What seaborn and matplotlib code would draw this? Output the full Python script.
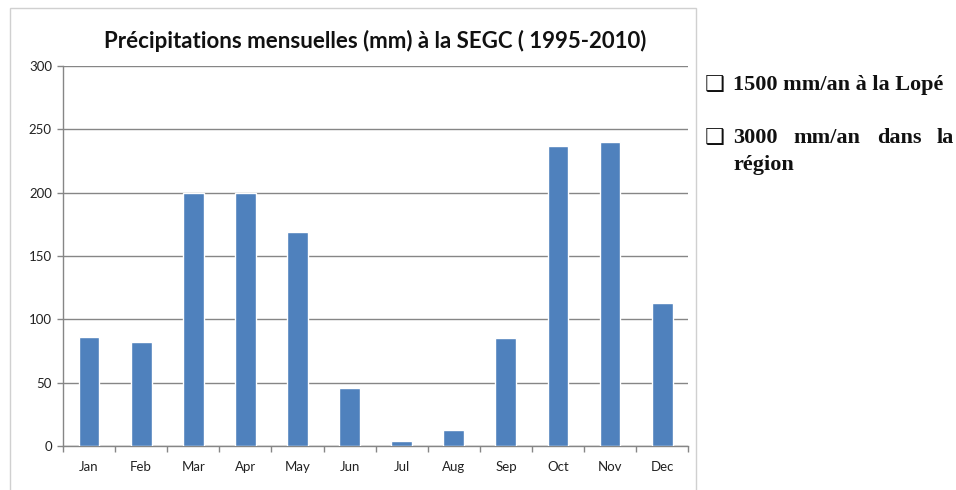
import matplotlib
matplotlib.use("Agg")
import matplotlib.pyplot as plt
import seaborn as sns
import pandas as pd
from matplotlib.patches import Rectangle

months = ["Jan", "Feb", "Mar", "Apr", "May", "Jun", "Jul", "Aug", "Sep", "Oct", "Nov", "Dec"]
precip = [86, 82, 200, 200, 169, 46, 4, 13, 85, 237, 240, 113]
yticks = [0, 50, 100, 150, 200, 250, 300]

df = pd.DataFrame({"mois": months, "pluie": precip})

sns.set_style("white")
plt.rcParams["font.family"] = ["Lato", "DejaVu Sans"]

fig = plt.figure(figsize=(9.56, 4.9), dpi=100)
ax = fig.add_axes([0.0659, 0.0898, 0.654, 0.7755])

sns.barplot(data=df, x="mois", y="pluie", color="#4F81BD", saturation=1,
            width=0.4, ax=ax, zorder=3)

ax.set_ylim(0, 300)
ax.set_xlim(-0.5, 11.5)
ax.set_yticks(yticks)
ax.set_yticklabels([str(v) for v in yticks], fontsize=9.5, color="#222222")
ax.set_xticks(range(12))
ax.set_xticklabels(months, fontsize=9.5, color="#222222")
ax.tick_params(axis="x", length=0, pad=11)
ax.tick_params(axis="y", length=4, width=1, color="#868686", pad=4, left=True)
# petits traits entre les mois
ax.set_xticks([i - 0.5 for i in range(13)], minor=True)
ax.tick_params(axis="x", which="minor", length=4, width=1, color="#868686", bottom=True)
ax.yaxis.grid(True, color="#868686", linewidth=1)
ax.set_axisbelow(True)
for s in ["top", "right"]:
    ax.spines[s].set_visible(False)
for s in ["left", "bottom"]:
    ax.spines[s].set_color("#868686")
    ax.spines[s].set_linewidth(1)
ax.set_xlabel("")
ax.set_ylabel("")
ax.set_title("Précipitations mensuelles (mm) à la SEGC ( 1995-2010)",
             fontsize=16, fontweight="bold", pad=13, color="#111111")

# cadre du graphique
fig.patches.append(Rectangle((10 / 956, -0.01), 686 / 956, 1 - 8 / 490 + 0.01,
                             transform=fig.transFigure, fill=False,
                             edgecolor="#d0d0d0", linewidth=1))

serif = {"family": ["Liberation Serif", "DejaVu Serif"], "fontweight": "bold",
         "fontsize": 16, "color": "#111111"}
box = {"family": ["DejaVu Sans"], "fontsize": 16, "color": "#111111"}

fig.text(705 / 956, 1 - 85 / 490, "\u2751", va="center", ha="left", **box)
fig.text(733 / 956, 1 - 85 / 490, "1500 mm/an à la Lopé", va="center", ha="left", **serif)

fig.text(705 / 956, 1 - 138 / 490, "\u2751", va="center", ha="left", **box)
for word, x in [("3000", 733), ("mm/an", 793), ("dans", 877), ("la", 937)]:
    fig.text(x / 956, 1 - 138 / 490, word, va="center", ha="left", **serif)
fig.text(733 / 956, 1 - 165 / 490, "région", va="center", ha="left", **serif)

fig.savefig("out.png", dpi=100)
